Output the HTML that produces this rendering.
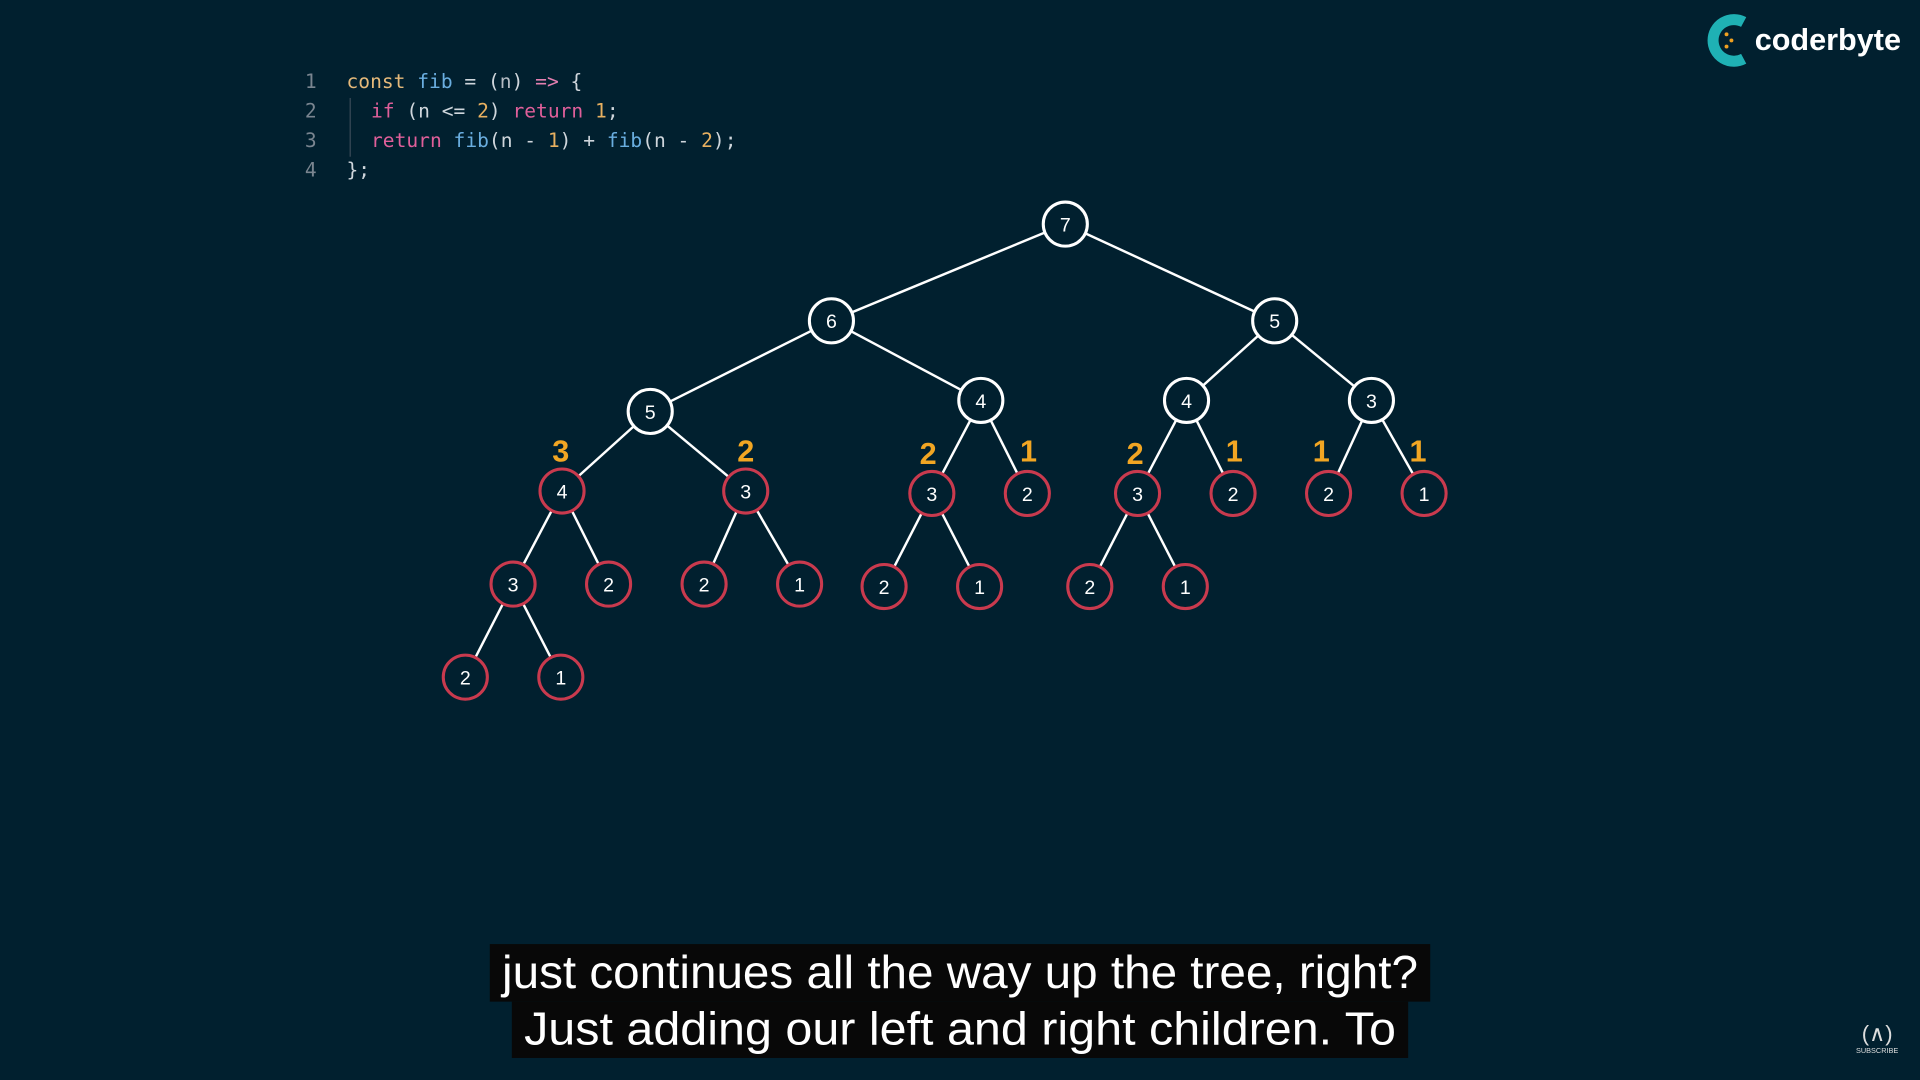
<!DOCTYPE html>
<html><head><meta charset="utf-8"><style>
html,body{margin:0;padding:0;background:#01202f;}
svg{display:block;width:1920px;height:1080px;}
</style></head><body>
<svg viewBox="0 0 1568 882" xmlns="http://www.w3.org/2000/svg">
<rect width="1568" height="882" fill="#01202f"/>
<g font-family="'DejaVu Sans Mono','Liberation Mono',monospace" font-size="16">
<text x="249" y="72" fill="#7a8590">1</text>
<text x="249" y="96" fill="#7a8590">2</text>
<text x="249" y="120" fill="#7a8590">3</text>
<text x="249" y="144" fill="#7a8590">4</text>
<line x1="286" y1="80" x2="286" y2="128" stroke="#3a4a57" stroke-width="1"/>
<text x="283" y="72" xml:space="preserve"><tspan fill="#e5b97a">const</tspan><tspan fill="#cfd6dc"> </tspan><tspan fill="#6aaee0">fib</tspan><tspan fill="#cfd6dc"> = (</tspan><tspan fill="#b5bcc4">n</tspan><tspan fill="#cfd6dc">) </tspan><tspan fill="#e47fb0">=&gt;</tspan><tspan fill="#cfd6dc"> {</tspan></text>
<text x="303" y="96" xml:space="preserve"><tspan fill="#e05f9a">if</tspan><tspan fill="#cfd6dc"> (n &lt;= </tspan><tspan fill="#e8b060">2</tspan><tspan fill="#cfd6dc">) </tspan><tspan fill="#e05f9a">return</tspan><tspan fill="#cfd6dc"> </tspan><tspan fill="#e8b060">1</tspan><tspan fill="#cfd6dc">;</tspan></text>
<text x="303" y="120" xml:space="preserve"><tspan fill="#e05f9a">return</tspan><tspan fill="#cfd6dc"> </tspan><tspan fill="#6aaee0">fib</tspan><tspan fill="#cfd6dc">(n - </tspan><tspan fill="#e8b060">1</tspan><tspan fill="#cfd6dc">) + </tspan><tspan fill="#6aaee0">fib</tspan><tspan fill="#cfd6dc">(n - </tspan><tspan fill="#e8b060">2</tspan><tspan fill="#cfd6dc">);</tspan></text>
<text x="283" y="144" fill="#cfd6dc">};</text>
</g>
<path d="M1424 18 A17 17 0 1 0 1424 48" fill="none" stroke="#1fb1b4" stroke-width="9"/>
<g fill="#f0a020"><circle cx="1410" cy="28" r="1.6"/><circle cx="1414" cy="33" r="1.6"/><circle cx="1410" cy="38" r="1.6"/></g>
<text x="1433" y="41" font-family="'Liberation Sans',sans-serif" font-weight="bold" font-size="25" fill="#fff">coderbyte</text>
<g stroke="#fff" stroke-width="2">
<line x1="870" y1="183" x2="679" y2="262"/><line x1="870" y1="183" x2="1041" y2="262"/>
<line x1="679" y1="262" x2="531" y2="336"/><line x1="679" y1="262" x2="801" y2="327"/>
<line x1="1041" y1="262" x2="969" y2="327"/><line x1="1041" y1="262" x2="1120" y2="327"/>
<line x1="531" y1="336" x2="459" y2="401"/><line x1="531" y1="336" x2="609" y2="401"/>
<line x1="801" y1="327" x2="761" y2="403"/><line x1="801" y1="327" x2="839" y2="403"/>
<line x1="969" y1="327" x2="929" y2="403"/><line x1="969" y1="327" x2="1007" y2="403"/>
<line x1="1120" y1="327" x2="1085" y2="403"/><line x1="1120" y1="327" x2="1163" y2="403"/>
<line x1="459" y1="401" x2="419" y2="477"/><line x1="459" y1="401" x2="497" y2="477"/>
<line x1="609" y1="401" x2="575" y2="477"/><line x1="609" y1="401" x2="653" y2="477"/>
<line x1="761" y1="403" x2="722" y2="479"/><line x1="761" y1="403" x2="800" y2="479"/>
<line x1="929" y1="403" x2="890" y2="479"/><line x1="929" y1="403" x2="968" y2="479"/>
<line x1="419" y1="477" x2="380" y2="553"/><line x1="419" y1="477" x2="458" y2="553"/>
</g>
<g font-family="'Liberation Sans',sans-serif" font-size="16" text-anchor="middle" fill="#fff">
<g stroke="#fff" stroke-width="2.5" fill="#01202f">
<circle cx="870" cy="183" r="18"/><circle cx="679" cy="262" r="18"/><circle cx="1041" cy="262" r="18"/>
<circle cx="531" cy="336" r="18"/><circle cx="801" cy="327" r="18"/><circle cx="969" cy="327" r="18"/><circle cx="1120" cy="327" r="18"/>
</g>
<g stroke="#c93a4e" stroke-width="2.5" fill="#01202f">
<circle cx="459" cy="401" r="18"/><circle cx="609" cy="401" r="18"/><circle cx="761" cy="403" r="18"/><circle cx="839" cy="403" r="18"/>
<circle cx="929" cy="403" r="18"/><circle cx="1007" cy="403" r="18"/><circle cx="1085" cy="403" r="18"/><circle cx="1163" cy="403" r="18"/>
<circle cx="419" cy="477" r="18"/><circle cx="497" cy="477" r="18"/><circle cx="575" cy="477" r="18"/><circle cx="653" cy="477" r="18"/>
<circle cx="722" cy="479" r="18"/><circle cx="800" cy="479" r="18"/><circle cx="890" cy="479" r="18"/><circle cx="968" cy="479" r="18"/>
<circle cx="380" cy="553" r="18"/><circle cx="458" cy="553" r="18"/>
</g>
<text x="870" y="189">7</text><text x="679" y="268">6</text><text x="1041" y="268">5</text>
<text x="531" y="342">5</text><text x="801" y="333">4</text><text x="969" y="333">4</text><text x="1120" y="333">3</text>
<text x="459" y="407">4</text><text x="609" y="407">3</text><text x="761" y="409">3</text><text x="839" y="409">2</text>
<text x="929" y="409">3</text><text x="1007" y="409">2</text><text x="1085" y="409">2</text><text x="1163" y="409">1</text>
<text x="419" y="483">3</text><text x="497" y="483">2</text><text x="575" y="483">2</text><text x="653" y="483">1</text>
<text x="722" y="485">2</text><text x="800" y="485">1</text><text x="890" y="485">2</text><text x="968" y="485">1</text>
<text x="380" y="559">2</text><text x="458" y="559">1</text>
</g>
<g font-family="'Liberation Sans',sans-serif" font-weight="bold" font-size="25" text-anchor="middle" fill="#f2a623">
<text x="458" y="377">3</text><text x="609" y="377">2</text><text x="758" y="379">2</text><text x="840" y="377">1</text>
<text x="927" y="379">2</text><text x="1008" y="377">1</text><text x="1079" y="377">1</text><text x="1158" y="377">1</text>
</g>
<rect x="400" y="771" width="768" height="47" fill="#080808"/>
<rect x="418" y="818" width="732" height="46" fill="#080808"/>
<g font-family="'Liberation Sans',sans-serif" font-size="38" fill="#fff">
<text x="410" y="807" textLength="748" lengthAdjust="spacingAndGlyphs">just continues all the way up the tree, right?</text>
<text x="428" y="853" textLength="712" lengthAdjust="spacingAndGlyphs">Just adding our left and right children. To</text>
</g>
<text x="1533" y="850" font-family="'Liberation Sans',sans-serif" font-size="18" fill="#ddd" text-anchor="middle">(∧)</text>
<text x="1533" y="860" font-family="'Liberation Sans',sans-serif" font-size="6" fill="#ddd" text-anchor="middle">SUBSCRIBE</text>
</svg>
</body></html>
